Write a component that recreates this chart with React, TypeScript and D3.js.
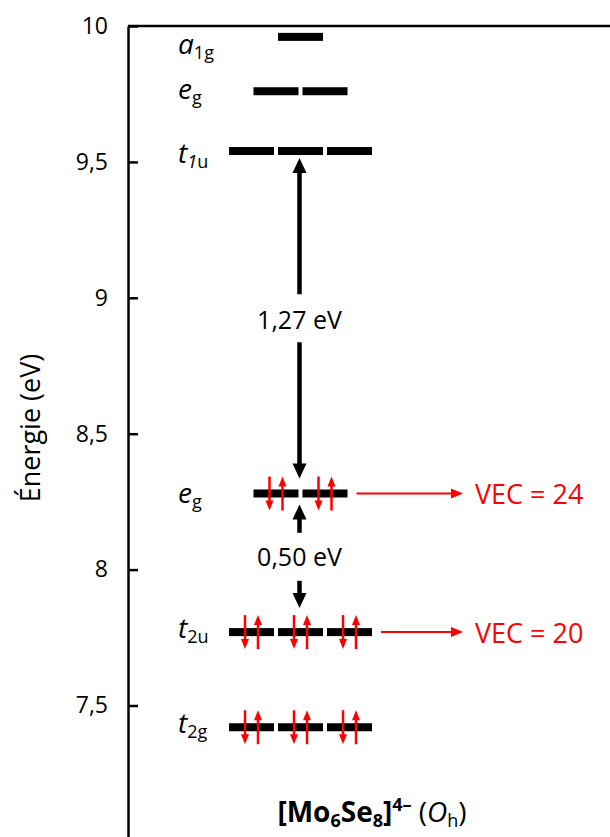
import React, { useEffect, useRef } from "react";
import * as d3 from "d3";

// ---- data ----
const levelMain = ["a", "e", "t", "e", "t", "t"];
const levelSub = ["1g", "g", "1u", "g", "2u", "2g"];
const levelEnergies = [9.96, 9.76, 9.54, 8.28, 7.77, 7.42];
const levelDegeneracy = [1, 2, 3, 2, 3, 3];
const electronsPerOrbital = [0, 0, 0, 2, 2, 2];
const gapLabels = ["1,27 eV", "0,50 eV"];
const gapFrom = [3, 4]; // lower level index
const gapTo = [2, 3]; // upper level index
const vecLabels = ["VEC = 24", "VEC = 20"];
const vecLevels = [3, 4];
const yTicks = [7.5, 8, 8.5, 9, 9.5, 10];
const yDomain = [7, 10];
const yTitle = "Énergie (eV)";

// ---- layout ----
const W = 610;
const H = 837;
const AXIS_X = 128;
const TOP_Y = 26;
const CX = 300.5;
const SEG_W = 45;
const SEG_GAP = 4;
const BAR_H = 8;
const LABEL_X = 178;
const LABEL_DY = [17, 8, 12, 10, 6, 6];
const FONT = "'Open Sans', 'Noto Sans', sans-serif";
const RED = "#FF0000";

const locale = d3.formatLocale({ decimal: ",", thousands: " ", grouping: [3], currency: ["", ""] });
const fmt = locale.format(".2~f");

function arrowHead(x: number, tipY: number, dir: number, w: number, l: number) {
  // dir = -1 pointing up, +1 pointing down
  const p = d3.path();
  p.moveTo(x, tipY);
  p.lineTo(x - w / 2, tipY - dir * l);
  p.lineTo(x + w / 2, tipY - dir * l);
  p.closePath();
  return p.toString();
}

export default function App() {
  const axisRef = useRef<SVGGElement>(null);
  const y = d3.scaleLinear().domain(yDomain).range([TOP_Y + (yDomain[1] - yDomain[0]) * 271.8, TOP_Y]);

  useEffect(() => {
    if (!axisRef.current) return;
    const axis = d3
      .axisLeft(y)
      .tickValues(yTicks)
      .tickFormat((d: any) => fmt(d))
      .tickSizeInner(-10)
      .tickSizeOuter(0)
      .tickPadding(20);
    const g = d3.select(axisRef.current);
    g.call(axis as any);
    g.select(".domain").attr("stroke", "#000").attr("stroke-width", 2.5);
    g.selectAll(".tick line").attr("stroke", "#000").attr("stroke-width", 2.5);
    g.selectAll(".tick text")
      .attr("font-family", FONT)
      .attr("font-size", 23)
      .attr("fill", "#000");
    g.attr("font-family", FONT);
  }, []);

  const segX = (n: number, i: number) => CX - (n * SEG_W + (n - 1) * SEG_GAP) / 2 + i * (SEG_W + SEG_GAP);

  return (
    <svg
      width={W}
      height={H}
      style={{ position: "absolute", left: 0, top: 0, background: "#fff" }}
      fontFamily={FONT}
    >
      <rect x={0} y={0} width={W} height={H} fill="#fff" />
      {/* top border */}
      <line x1={AXIS_X} x2={W} y1={TOP_Y} y2={TOP_Y} stroke="#000" strokeWidth={2.5} />
      <g ref={axisRef} transform={`translate(${AXIS_X},0)`} />
      <text
        transform={`translate(33,428) rotate(-90)`}
        textAnchor="middle"
        dominantBaseline="middle"
        fontSize={27}
      >
        {yTitle}
      </text>

      {/* levels */}
      {levelEnergies.map((e, li) => {
        const n = levelDegeneracy[li];
        const yy = y(e);
        return (
          <g key={li}>
            {d3.range(n).map((i) => {
              const x0 = segX(n, i);
              return (
                <g key={i}>
                  <rect x={x0} y={yy - BAR_H / 2} width={SEG_W} height={BAR_H} fill="#000" />
                  {electronsPerOrbital[li] >= 1 && (
                    <g>
                      <line x1={x0 + 16} x2={x0 + 16} y1={yy - 17} y2={yy + 8} stroke={RED} strokeWidth={2.5} />
                      <path d={arrowHead(x0 + 16, yy + 17, 1, 8, 10)} fill={RED} />
                    </g>
                  )}
                  {electronsPerOrbital[li] >= 2 && (
                    <g>
                      <line x1={x0 + 29} x2={x0 + 29} y1={yy + 17} y2={yy - 8} stroke={RED} strokeWidth={2.5} />
                      <path d={arrowHead(x0 + 29, yy - 17, -1, 8, 10)} fill={RED} />
                    </g>
                  )}
                </g>
              );
            })}
            <text x={LABEL_X} y={yy + LABEL_DY[li]} fontSize={28}>
              <tspan fontStyle="italic">{levelMain[li]}</tspan>
              <tspan fontSize={18} dy={5} fontStyle="normal">
                {levelSub[li] === "1u" ? (
                  <>
                    <tspan fontStyle="italic">1</tspan>
                    <tspan fontStyle="normal">u</tspan>
                  </>
                ) : (
                  levelSub[li]
                )}
              </tspan>
            </text>
          </g>
        );
      })}

      {/* gap arrows */}
      {gapLabels.map((lab, gi) => {
        const yLow = y(levelEnergies[gapFrom[gi]]);
        const yHigh = y(levelEnergies[gapTo[gi]]);
        const big = gi === 0;
        const upTip = big ? yHigh + 7 : yHigh + 11;
        const downTip = big ? yLow - 15 : yLow - 24;
        const mid = big ? (yLow + yHigh) / 2 - 3 : (yLow + yHigh) / 2 - 7;
        const halfUp = big ? 25 : 23;
        const halfDown = big ? 23 : 25;
        const lw = 4.5;
        const hw = 14;
        const hl = 15;
        const ax = CX - 1;
        return (
          <g key={gi}>
            <line x1={ax} x2={ax} y1={mid - halfUp} y2={upTip + hl - 1} stroke="#000" strokeWidth={lw} />
            <path d={arrowHead(ax, upTip, -1, hw, hl)} fill="#000" />
            <line x1={ax} x2={ax} y1={mid + halfDown} y2={downTip - hl + 1} stroke="#000" strokeWidth={lw} />
            <path d={arrowHead(ax, downTip, 1, hw, hl)} fill="#000" />
            <text x={ax} y={mid} textAnchor="middle" dominantBaseline="central" fontSize={25}>
              {lab}
            </text>
          </g>
        );
      })}

      {/* VEC annotations */}
      {vecLabels.map((lab, vi) => {
        const li = vecLevels[vi];
        const n = levelDegeneracy[li];
        const yy = y(levelEnergies[li]);
        const xStart = segX(n, n - 1) + SEG_W + 9;
        const xEnd = 463;
        return (
          <g key={vi}>
            <line x1={xStart} x2={xEnd - 10} y1={yy} y2={yy} stroke={RED} strokeWidth={2} />
            <path d={`M${xEnd},${yy} L${xEnd - 12},${yy - 5} L${xEnd - 12},${yy + 5} Z`} fill={RED} />
            <text x={475} y={yy} dominantBaseline="central" fontSize={27} fill={RED}>
              {lab}
            </text>
          </g>
        );
      })}

      {/* compound label */}
      <text x={372} y={822} textAnchor="middle" fontSize={28}>
        <tspan fontWeight="bold">[Mo</tspan>
        <tspan fontWeight="bold" fontSize={18} dy={5}>6</tspan>
        <tspan fontWeight="bold" dy={-5}>Se</tspan>
        <tspan fontWeight="bold" fontSize={18} dy={5}>8</tspan>
        <tspan fontWeight="bold" dy={-5}>]</tspan>
        <tspan fontWeight="bold" fontSize={18} dy={-11}>4–</tspan>
        <tspan dy={11}> (</tspan>
        <tspan fontStyle="italic">O</tspan>
        <tspan fontSize={18} dy={5}>h</tspan>
        <tspan dy={-5}>)</tspan>
      </text>
    </svg>
  );
}
